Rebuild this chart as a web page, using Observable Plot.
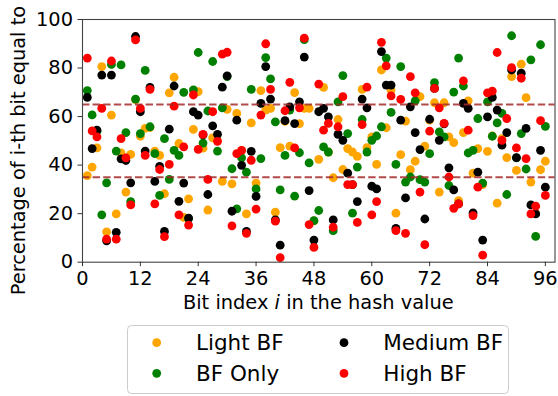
<!DOCTYPE html>
<html>
<head>
<meta charset="utf-8">
<script src="https://cdn.jsdelivr.net/npm/d3@7"></script>
<script src="https://cdn.jsdelivr.net/npm/@observablehq/plot@0.6"></script>
<style>
  html, body { margin: 0; padding: 0; background: #fff; overflow: hidden; }
  #wrap { position: relative; width: 558px; height: 396px; font-family: "DejaVu Sans", sans-serif; }
  #wrap svg { display: block; }
</style>
</head>
<body>
<div id="wrap"></div>
<script>
// ---- data ----
const seriesNames = ["Light BF", "BF Only", "Medium BF", "High BF"];
const seriesColors = ["orange", "green", "black", "red"];
const xTicks = [0, 12, 24, 36, 48, 60, 72, 84, 96];
const yTicks = [0, 20, 40, 60, 80, 100];
const thresholds = [35, 65];
const bitIndex = d3.range(1, 97);

const lightBF = [35.7, 39.2, 47.1, 80.6, 12.5, 60.6, 19.9, 45, 28.9, 44.4, 67, 51.9, 55.1, 55.5, 45.8, 44,
  28.2, 69.8, 76.2, 48.9, 18.5, 26.1, 54.7, 70.3, 47, 21.5, 51.2, 50, 33.3, 63, 32.3, 61.3,
  46, 19.9, 57.4, 32.6, 70.7, 62.7, 63.4, 20.6, 47.2, 58, 47.8, 69.9, 57.1, 63.4, 63.4, 17,
  42.4, 72, 45.4, 34.8, 58.8, 38.2, 46.8, 45.4, 43.6, 71.2, 47.2, 51.6, 40.3, 79.2, 55.4, 71,
  20.2, 44.3, 58.1, 38.1, 41.6, 68.2, 47.8, 58.5, 65.7, 28.9, 65.7, 51.6, 49.3, 25.4, 53.4, 66.5,
  36.7, 46.8, 32, 45.7, 52, 24.3, 50.9, 43.1, 76.5, 37.8, 81.6, 67.8, 33, 20, 38.1, 41.6];

const bfOnly = [70.7, 60.7, 54, 19.5, 32.7, 81.5, 45.8, 81.3, 53.4, 25, 67.2, 53, 79, 55.8, 44.7, 27.5,
  50.9, 34.1, 46.1, 44, 70, 18, 71, 86.4, 49.1, 62.3, 82.7, 45.8, 63.6, 76.5, 38.5, 22,
  43, 37.1, 71.2, 30.2, 42.7, 84.3, 75.5, 57.8, 29.8, 44, 62.7, 27.2, 45.1, 91.7, 40.9, 17.1,
  21.3, 47.5, 45.4, 13, 66.1, 76.9, 53, 20.2, 39.2, 58.8, 45.4, 50.2, 52, 55.8, 84.1, 61.7,
  40.3, 80.6, 33, 35.1, 66.5, 34, 33, 44.7, 74, 53.7, 51.6, 31.6, 70.1, 84.1, 72.6, 45,
  46.1, 59.2, 32.6, 66.1, 51.9, 57.4, 61.3, 27.9, 93.3, 43, 53, 38.4, 83.4, 10.6, 89.6, 56];

const mediumBF = [67.9, 46.8, 54.4, 77.1, 8.8, 77.1, 12.3, 42.6, 41.9, 32.7, 93, 62, 45.8, 72, 33.3, 39.5,
  12.7, 54.8, 72.6, 25.1, 32.6, 18.2, 62, 60.6, 52.5, 27.9, 56.2, 52.7, 72.1, 76.8, 21, 58.5,
  39.9, 12.7, 45.7, 27.1, 65.4, 80.6, 67.2, 17.4, 7, 58.3, 64, 57.1, 66.1, 84.5, 29.5, 9.1,
  62, 63.4, 59.9, 17.4, 52.7, 50.2, 36.7, 32, 25, 67.2, 63.6, 31.3, 30.2, 86.8, 73, 73,
  13.9, 58.5, 26.5, 64, 53.4, 46.4, 17.8, 58.9, 71.6, 50.2, 57, 38.9, 29.8, 24, 65.4, 63.4,
  20.3, 37.1, 9.1, 59.9, 67.9, 62.7, 48.2, 53.4, 79.2, 43.1, 77.9, 55.1, 23.6, 19.9, 46.1, 30.9];

const highBF = [84.1, 54.1, 51.6, 63.4, 9.5, 82.9, 9.5, 50.9, 43, 23.6, 91.6, 63.4, 44, 71.2, 24, 38.2,
  10.5, 40.3, 64.3, 19.5, 47.5, 15.3, 68.9, 46.5, 52.7, 34.1, 62, 49.8, 85.7, 86.5, 15, 44.7,
  46.1, 11.9, 42, 21.9, 60.6, 90, 71.2, 16.9, 1.9, 62.4, 74.1, 47.1, 63.6, 92.3, 15.5, 6.1,
  73.4, 54.4, 57.2, 14.4, 55.8, 68.2, 32, 32, 16.4, 56.7, 72.1, 19.5, 25, 90.6, 80.9, 68.5,
  13, 67.1, 11.9, 76.5, 69.8, 28.9, 7.2, 54, 71.6, 63.6, 57.2, 35.1, 22.2, 24, 74.7, 54.4,
  19.2, 30.9, 2.9, 69.8, 70.5, 86.4, 50.2, 59.2, 80.2, 47.1, 75.8, 42.7, 19.9, 23.1, 58.3, 27.5];

const seriesValues = [lightBF, bfOnly, mediumBF, highBF];
const points = seriesValues.flatMap((vals, k) =>
  vals.map((v, j) => ({i: bitIndex[j], v, s: seriesNames[k]})));

// ---- chart ----
const FS = 19.4;
const chart = Plot.plot({
  width: 558,
  height: 320,
  marginLeft: 82,
  marginRight: 3.5,
  marginTop: 19,
  marginBottom: 58.3,
  style: {fontFamily: "DejaVu Sans", fontSize: FS + "px", color: "black", background: "white", overflow: "visible"},
  x: {domain: [0, 98]},
  y: {domain: [0, 100]},
  color: {domain: seriesNames, range: seriesColors},
  marks: [
    Plot.dot(points, {x: "i", y: "v", fill: "s", r: 4.4, stroke: null}),
    Plot.ruleY(thresholds, {stroke: "#A52A2A", strokeWidth: 2, strokeDasharray: "7.4,3.2", strokeOpacity: 0.85}),
    Plot.frame({stroke: "#444", strokeWidth: 1.1}),
    Plot.axisX({ticks: xTicks, tickSize: 4.5, tickPadding: 5, label: null, stroke: "#333", fontSize: FS}),
    Plot.axisY({ticks: yTicks, tickSize: 4.5, tickPadding: 5, label: null, stroke: "#333", fontSize: FS})
  ]
});

const wrap = document.getElementById("wrap");
wrap.appendChild(chart);

// axis titles
const svg = d3.select(chart);
const xl = svg.append("text")
  .attr("x", 318.3).attr("y", 309)
  .attr("text-anchor", "middle")
  .attr("font-family", "DejaVu Sans").attr("font-size", FS).attr("fill", "black");
xl.append("tspan").text("Bit index ");
xl.append("tspan").attr("font-style", "italic").text("i");
xl.append("tspan").text(" in the hash value");

svg.append("text")
  .attr("transform", "translate(25,295.3) rotate(-90)")
  .attr("text-anchor", "start")
  .attr("font-family", "DejaVu Sans").attr("font-size", FS).attr("fill", "black")
  .text("Percentage of i-th bit equal to");

// legend below the chart
const leg = d3.select(wrap).append("svg")
  .attr("width", 558).attr("height", 76)
  .style("font-family", "DejaVu Sans");
leg.append("rect")
  .attr("x", 127.5).attr("y", 5.5).attr("width", 381).attr("height", 68).attr("rx", 4)
  .attr("fill", "white").attr("stroke", "#cccccc").attr("stroke-width", 1);
const legPos = [
  {cx: 156.7, cy: 22.7, tx: 196, ty: 30},
  {cx: 156.7, cy: 53.3, tx: 196, ty: 61},
  {cx: 344, cy: 22.7, tx: 383.3, ty: 30},
  {cx: 344, cy: 53.3, tx: 383.3, ty: 61}
];
seriesNames.forEach((name, k) => {
  const p = legPos[k];
  leg.append("circle").attr("cx", p.cx).attr("cy", p.cy).attr("r", 4.4).attr("fill", seriesColors[k]);
  leg.append("text").attr("x", p.tx).attr("y", p.ty).attr("font-size", 21.5).attr("fill", "black").text(name);
});
</script>
</body>
</html>
